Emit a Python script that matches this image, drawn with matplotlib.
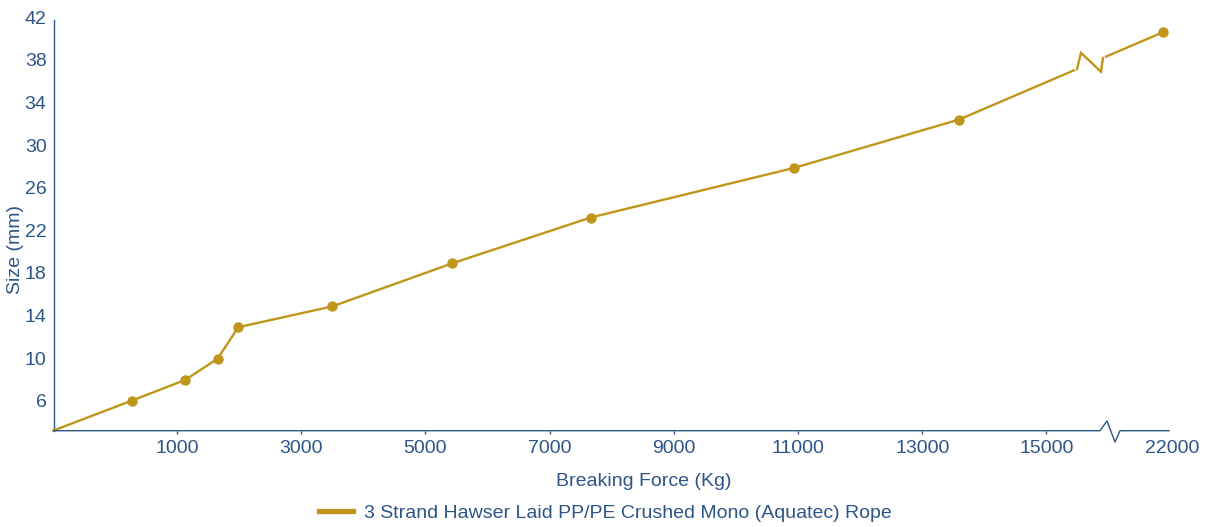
import numpy as np
import matplotlib
matplotlib.use("Agg")
import matplotlib.pyplot as plt
import matplotlib.transforms as mtransforms
from matplotlib.lines import Line2D

# Data
force_kg = [0, 633, 1134, 1655, 1987, 3499, 5433, 7662, 10932, 13594, 21856]
size_mm = [3.2, 6.0, 7.95, 9.95, 12.9, 14.85, 18.9, 23.2, 27.85, 32.4, 40.6]
x_ticks = [1000, 3000, 5000, 7000, 9000, 11000, 13000, 15000, 22000]
x_tick_labels = ["1000", "3000", "5000", "7000", "9000", "11000", "13000", "15000", "22000"]
y_ticks = [6, 10, 14, 18, 22, 26, 30, 34, 38, 42]
series_name = "3 Strand Hawser Laid PP/PE Crushed Mono (Aquatec) Rope"

GOLD = "#BF9619"
BLUE = "#2D5587"
W, H = 1211, 527
FS = 14

# Broken x axis: first 1000 kg stretched, 16000-21000 kg cut out
X_KNOTS = [0, 1000, 16000, 21000, 22000]
U_KNOTS = [0, 123.5, 1055, 1056, 1118.5]

def fwd(x):
    return np.interp(x, X_KNOTS, U_KNOTS)

def inv(u):
    return np.interp(u, U_KNOTS, X_KNOTS)

plt.rcParams["font.family"] = ["Liberation Sans", "DejaVu Sans"]
plt.rcParams["font.size"] = FS

fig = plt.figure(figsize=(W / 100, H / 100), dpi=100)
ax_left, ax_bottom_px, ax_top_px = 53.5, 430.7, 17.3
ax = fig.add_axes([ax_left / W, (H - ax_bottom_px) / H, 1118.5 / W, (ax_bottom_px - ax_top_px) / H])

ax.set_xscale("function", functions=(fwd, inv))
ax.set_xlim(0, 22000)
ax.set_ylim(3.18, 42)

ax.plot(force_kg, size_mm, color=GOLD, lw=1.7, marker="o", ms=6.5,
        markevery=list(range(1, len(force_kg))), zorder=3, clip_on=False)

# spines
for s in ["top", "right", "bottom"]:
    ax.spines[s].set_visible(False)
ax.spines["left"].set_color(BLUE)
ax.spines["left"].set_linewidth(1.0)
ax.spines["left"].set_bounds(3.18, 41.7)

ax.set_xticks(x_ticks)
ax.set_xticklabels(x_tick_labels)
ax.set_yticks(y_ticks)
ax.tick_params(axis="x", colors=BLUE, length=2.5, width=1.0, pad=4, labelsize=FS)
ax.tick_params(axis="y", colors=BLUE, length=0, pad=5, labelsize=FS)
ax.xaxis.set_minor_locator(matplotlib.ticker.NullLocator())
# no tick mark past the end of the axis line
ax.xaxis.get_major_ticks()[-1].tick1line.set_visible(False)

fig.text(644 / W, 1 - 481 / H, "Breaking Force (Kg)", color=BLUE, fontsize=FS,
         ha="center", va="center")
fig.text(16 / W, 1 - 250 / H, "Size (mm)", color=BLUE, fontsize=FS,
         ha="center", va="center", rotation=90)

# legend
handle = Line2D([], [], color=GOLD, lw=3.8)
fig.legend([handle], [series_name], loc="center", bbox_to_anchor=(0.5, 1 - 513 / H),
           frameon=False, handlelength=1.75, handletextpad=0.55, fontsize=FS,
           labelcolor=BLUE)

# break marks (decoration), drawn in pixel coordinates
ident = mtransforms.IdentityTransform()
T = ax.transData
bx = T.transform((16000, 10))[0] + 0.5
p1 = T.transform((force_kg[-2], size_mm[-2]))
p2 = T.transform((force_kg[-1], size_mm[-1]))

def line_y(x):
    return p1[1] + (p2[1] - p1[1]) * (x - p1[0]) / (p2[0] - p1[0])

zx = np.array([bx - 32, bx - 28, bx - 8, bx - 6])
zy = np.array([line_y(zx[0]), line_y(zx[1]) + 14.5, line_y(zx[2]) - 13, line_y(zx[3])])
fig.add_artist(Line2D([zx[0] + 0.5, zx[3] - 0.5], [line_y(zx[0] + 0.5), line_y(zx[3] - 0.5)],
                      color="white", lw=4, transform=ident, zorder=4))
fig.add_artist(Line2D(zx, zy, color=GOLD, lw=1.7, transform=ident, zorder=5,
                      solid_joinstyle="miter"))

y0 = H - ax_bottom_px
ax_x0 = ax_left
ax_x1 = 1169
fig.add_artist(Line2D([ax_x0, bx - 9, bx - 2, bx + 6, bx + 11, ax_x1],
                      [y0, y0, y0 + 9.7, y0 - 11.3, y0, y0],
                      color=BLUE, lw=1.0, transform=ident, zorder=5))

fig.savefig("out.png", dpi=100, facecolor="white")
